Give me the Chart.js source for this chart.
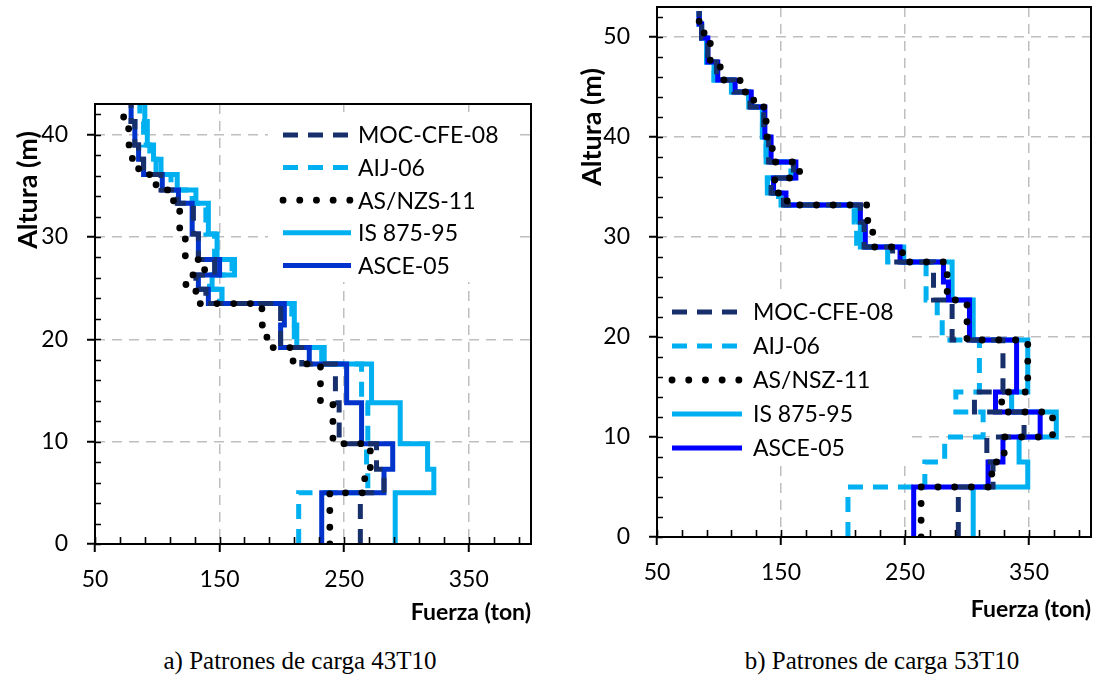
<!DOCTYPE html>
<html><head><meta charset="utf-8">
<script src="https://cdn.jsdelivr.net/npm/chart.js@4.4.1/dist/chart.umd.min.js"></script>
<style>
html,body{margin:0;padding:0;background:#fff;}
body{width:1100px;height:696px;position:relative;overflow:hidden;}
#wa{position:absolute;left:0;top:0;width:550px;height:640px;}
#wb{position:absolute;left:550px;top:0;width:550px;height:640px;}
.cap{position:absolute;top:646px;line-height:30px;font-family:"Liberation Serif","Times New Roman",serif;font-size:25px;color:#000;white-space:nowrap;transform:translateX(-50%);}
</style></head><body>
<div id="wa"><canvas id="ca" width="550" height="640"></canvas></div>
<div id="wb"><canvas id="cb" width="550" height="640"></canvas></div>
<div class="cap" style="left:300px">a) Patrones de carga 43T10</div>
<div class="cap" style="left:882px">b) Patrones de carga 53T10</div>
<script>
// ---------- DATA ----------
const namesA = ['MOC-CFE-08', 'AIJ-06', 'AS/NZS-11', 'IS 875-95', 'ASCE-05'];
const namesB = ['MOC-CFE-08', 'AIJ-06', 'AS/NSZ-11', 'IS 875-95', 'ASCE-05'];

// Panel a) 43T10 : story limits (m) and force per story (ton)
const levelsA = [0, 5, 7.3, 9.8, 13.8, 17.6, 19.2, 21.4, 23.5, 24.9, 26.3, 27.8, 30.3, 33.3, 34.6, 36.1, 37.6, 39, 41.3, 43];
const mocA   = [263, 282, 276, 246, 243, 216, 199, 199, 139, 131, 146, 133, 129, 116, 103, 89, 85, 82, 79];
const aijA   = [213.5, 269, 268, 269, 264, 232, 210, 208, 150, 142, 160, 146, 139, 128, 111, 99, 94, 89, 86];
const asnzsA = [238.5, 266.5, 271, 241, 231, 209, 188, 184, 131, 123, 138, 122.5, 118, 113, 99, 85, 80, 77, 73];
const isA    = [291, 322, 317, 295, 272, 234, 212, 210, 152, 144, 162, 148, 141, 131, 116, 103, 97, 92, 90];
const asceA  = [232, 282, 289, 264, 252, 222, 199, 202, 141, 133, 150, 133, 128, 117, 104, 89, 85, 82, 79];

// Panel b) 53T10
const levelsB = [0, 5, 7.5, 10, 12.5, 14.5, 19.7, 21.7, 23.7, 25.5, 27.5, 29, 31.5, 33.2, 34.4, 35.9, 37.5, 40, 43, 44.5, 45.7, 47.5, 49.9, 51.3, 52.6];
const mocB   = [293, 321, 316, 346, 306, 329, 288, 288, 273, 273, 240, 217, 214, 152, 142, 160, 140, 136, 125, 112, 98, 91, 86, 84];
const aijB   = [204, 266, 282, 313, 291, 310, 280, 276, 267, 267, 236, 211, 209, 148, 139, 158, 138, 135, 124, 110, 96, 90, 86, 84];
const asnzsB = [263, 320, 330, 369, 328, 349, 300, 300, 284, 284, 248, 224, 220, 155, 145, 165, 143, 138, 128, 117, 101, 93, 88, 84];
const isB    = [305, 349, 342, 372, 336, 349, 305, 305, 288, 288, 249, 214, 212, 150, 139, 160, 138, 135, 124, 111, 96, 90, 86, 84];
const asceB  = [257, 317, 329, 359, 323, 340, 302, 302, 285, 281, 246, 218, 214, 154, 144, 162, 142, 137, 126, 113, 99, 91, 86, 84];

const xTicks  = [50, 150, 250, 350];
const yTicksA = [0, 10, 20, 30, 40];
const yTicksB = [0, 10, 20, 30, 40, 50];
const xRange = [50, 400];
const yMaxA = 43, yMaxB = 53;

// ---------- STYLES ----------
const styleList = [
  {color: '#17306b', dash: [15, 10], width: 5, cap: 'butt', order: 1},
  {color: '#00b0f0', dash: [15, 10], width: 5, cap: 'butt', order: 3},
  {color: '#000000', dash: [0.1, 16.6], width: 6.8, cap: 'round', order: 0},
  {color: '#00b0f0', dash: [], width: 5, cap: 'butt', order: 4},
  {color: '#0033cc', dash: [], width: 5, cap: 'butt', order: 2}
];
const FONT = 'Lato';

function stepPoints(levels, forces) {
  const pts = [];
  for (let i = 0; i < forces.length; i++) {
    pts.push({x: forces[i], y: levels[i]});
    pts.push({x: forces[i], y: levels[i + 1]});
  }
  return pts;
}

const panelPlugin = {
  id: 'panel',
  afterDatasetsDraw(chart, args, o) {
    const ctx = chart.ctx;
    const a = chart.chartArea;
    ctx.save();
    // legend box
    ctx.fillStyle = '#fff';
    ctx.fillRect(o.box[0], o.box[1], o.box[2], o.box[3]);
    o.styles.forEach((s, i) => {
      const y = o.row0 + i * o.dy;
      ctx.beginPath();
      ctx.setLineDash(s.dash);
      ctx.lineCap = s.cap;
      ctx.lineWidth = s.width;
      ctx.strokeStyle = s.color;
      ctx.moveTo(o.lx0, y); ctx.lineTo(o.lx1, y); ctx.stroke();
      ctx.setLineDash([]);
      ctx.fillStyle = '#000';
      ctx.font = '23px ' + FONT;
      ctx.textBaseline = 'middle';
      ctx.textAlign = 'left';
      ctx.fillText(o.names[i], o.tx, y + 1);
    });
    // frame
    ctx.setLineDash([]);
    ctx.lineCap = 'butt';
    ctx.strokeStyle = '#000';
    ctx.lineWidth = 2;
    ctx.strokeRect(a.left, a.top, a.right - a.left, a.bottom - a.top);
    // inner ticks
    const xs = chart.scales.x, ys = chart.scales.y;
    ctx.lineWidth = 1.6;
    ctx.beginPath();
    for (let v = xRange[0]; v <= xRange[1]; v += 20) {
      const px = Math.round(xs.getPixelForValue(v)) + 0.5;
      ctx.moveTo(px, a.bottom); ctx.lineTo(px, a.bottom - 7);
    }
    for (let v = 0; v <= o.yMax; v += 2) {
      const py = Math.round(ys.getPixelForValue(v)) + 0.5;
      ctx.moveTo(a.left, py); ctx.lineTo(a.left + 6, py);
    }
    ctx.stroke();
    // y title
    ctx.save();
    ctx.translate(o.ytx, o.yty);
    ctx.rotate(-Math.PI / 2);
    ctx.font = 'bold 27px ' + FONT;
    ctx.fillStyle = '#000';
    ctx.textAlign = 'center';
    ctx.textBaseline = 'middle';
    ctx.fillText('Altura (m)', 0, 0);
    ctx.restore();
    ctx.restore();
  }
};

function makeChart(id, p) {
  const datasets = p.series.map((f, i) => {
    const s = p.styles[i];
    return {
      label: p.names[i],
      data: stepPoints(p.levels, f),
      showLine: true,
      borderColor: s.color,
      backgroundColor: s.color,
      borderWidth: s.width,
      borderDash: s.dash,
      borderCapStyle: s.cap,
      borderJoinStyle: 'miter',
      pointRadius: 0,
      pointHoverRadius: 0,
      fill: false,
      tension: 0,
      order: s.order
    };
  });
  return new Chart(document.getElementById(id), {
    type: 'scatter',
    data: {datasets},
    plugins: [panelPlugin],
    options: {
      responsive: false,
      animation: false,
      events: [],
      layout: {padding: p.pad},
      plugins: {
        legend: {display: false},
        tooltip: {enabled: false},
        panel: p.leg
      },
      scales: {
        x: {
          type: 'linear', position: 'bottom', min: xRange[0], max: xRange[1],
          afterBuildTicks: (s) => { s.ticks = xTicks.map(v => ({value: v})); },
          afterFit: (s) => { s.height = p.xh; s.paddingLeft = 0; s.paddingRight = 0; },
          ticks: {autoSkip: false, maxRotation: 0, padding: 14, color: '#000', font: {family: FONT, size: 23}},
          grid: {
            color: (c) => (c.tick && c.tick.value !== xRange[0]) ? '#bfbfbf' : 'rgba(0,0,0,0)',
            lineWidth: 1.5, tickLength: 8, tickWidth: 2,
            tickColor: '#000'
          },
          border: {display: false, dash: [10, 7]},
          title: {display: true, text: 'Fuerza (ton)', align: 'end', color: '#000', padding: 0,
                  font: {family: FONT, size: 23, weight: 'bold'}}
        },
        y: {
          type: 'linear', position: 'left', min: 0, max: p.yMax,
          afterBuildTicks: (s) => { s.ticks = p.yTicks.map(v => ({value: v})); },
          afterFit: (s) => { s.width = p.yw; s.paddingTop = 0; s.paddingBottom = 0; },
          ticks: {autoSkip: false, padding: 19, color: '#000', font: {family: FONT, size: 23}},
          grid: {
            color: (c) => (c.tick && c.tick.value !== 0) ? '#bfbfbf' : 'rgba(0,0,0,0)',
            lineWidth: 1.5, tickLength: 8, tickWidth: 2,
            tickColor: '#000'
          },
          border: {display: false, dash: [10, 7]}
        }
      }
    }
  });
}

const stylesA = styleList;
const stylesB = styleList.map((s, i) => i === 4 ? Object.assign({}, s, {color: '#0000ff'}) : s);

makeChart('ca', {
  levels: levelsA, series: [mocA, aijA, asnzsA, isA, asceA], names: namesA, styles: stylesA,
  yMax: yMaxA, yTicks: yTicksA, yw: 95, xh: 82,
  pad: {left: 0, top: 104, right: 19, bottom: 14},
  leg: {box: [268, 112, 252, 170], lx0: 283, lx1: 351, tx: 358, row0: 135, dy: 32.6,
        names: namesA, styles: stylesA, yMax: yMaxA, ytx: 28, yty: 190}
});
makeChart('cb', {
  levels: levelsB, series: [mocB, aijB, asnzsB, isB, asceB], names: namesB, styles: stylesB,
  yMax: yMaxB, yTicks: yTicksB, yw: 107, xh: 86,
  pad: {left: 0, top: 7, right: 9, bottom: 17},
  leg: {box: [109, 293, 252, 173], lx0: 122, lx1: 192, tx: 203, row0: 312, dy: 34,
        names: namesB, styles: stylesB, yMax: yMaxB, ytx: 42, yty: 127}
});
</script>
</body></html>
